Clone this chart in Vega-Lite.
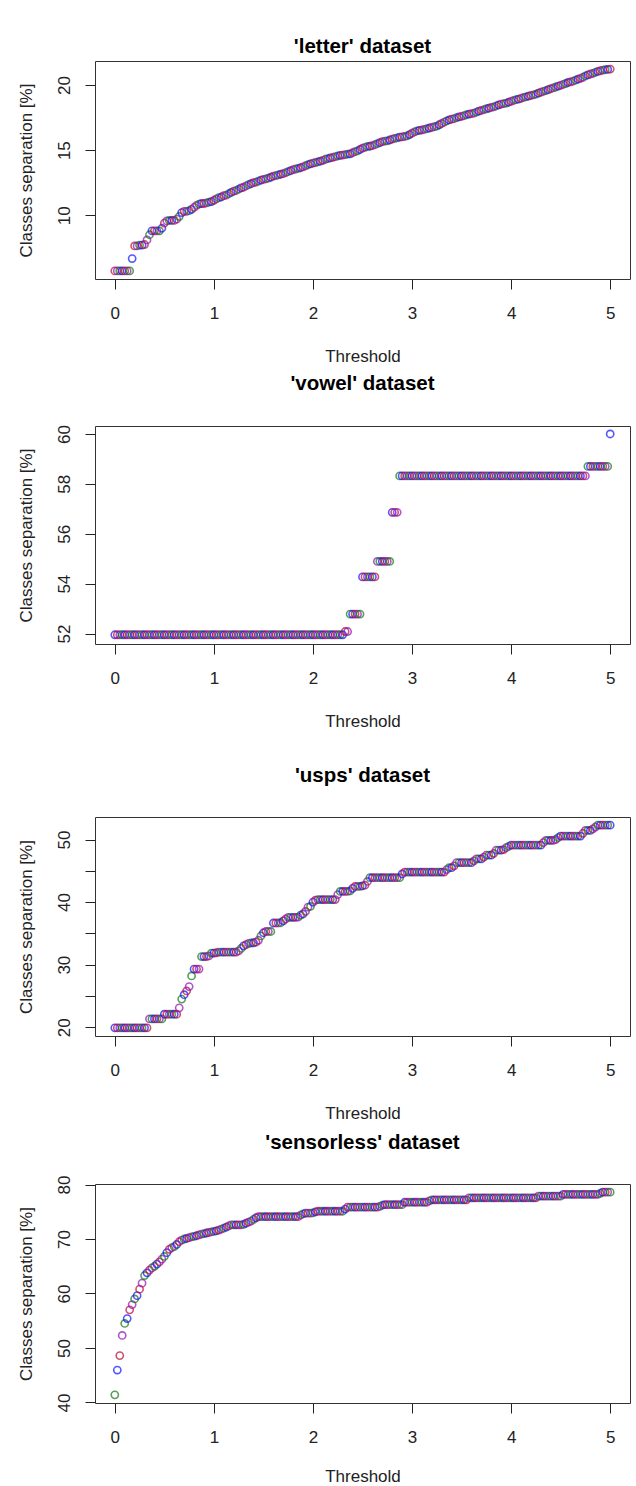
{
"$schema": "https://vega.github.io/schema/vega-lite/v6.json",
"background": "white",
"padding": {"left": 16, "top": 36, "right": 4, "bottom": 0},
"config": {
  "font": "Liberation Sans",
  "view": {"stroke": "#333", "strokeWidth": 1},
  "axis": {"grid": false, "domain": false, "tickColor": "#222", "tickSize": 10, "tickWidth": 1, "labelFont": "Liberation Sans", "labelFontSize": 17, "labelColor": "#222", "titleFont": "Liberation Sans", "titleFontSize": 17, "titleFontWeight": "normal", "titleColor": "#222", "labelFlush": false, "labelOverlap": false},
  "axisX": {"labelPadding": 16, "titlePadding": 27, "labelAngle": 0},
  "axisY": {"labelAngle": -90, "labelAlign": "center", "labelBaseline": "bottom", "labelPadding": 12, "titlePadding": 20},
  "title": {"fontSize": 20.5, "fontWeight": "bold", "font": "Liberation Sans", "color": "#000", "anchor": "middle", "frame": "group"},
  "point": {"filled": false, "shape": "circle", "size": 52, "strokeWidth": 1.6}
},
"datasets": {
"letter": [{"t":0,"v":5.72},{"t":0.025,"v":5.72},{"t":0.05,"v":5.72},{"t":0.075,"v":5.72},{"t":0.1,"v":5.72},{"t":0.125,"v":5.72},{"t":0.15,"v":5.72},{"t":0.175,"v":6.67},{"t":0.2,"v":7.64},{"t":0.225,"v":7.64},{"t":0.25,"v":7.7},{"t":0.275,"v":7.7},{"t":0.3,"v":7.75},{"t":0.325,"v":8.1},{"t":0.35,"v":8.5},{"t":0.375,"v":8.8},{"t":0.4,"v":8.8},{"t":0.425,"v":8.8},{"t":0.45,"v":8.8},{"t":0.475,"v":9.0},{"t":0.5,"v":9.4},{"t":0.525,"v":9.56},{"t":0.55,"v":9.6},{"t":0.575,"v":9.6},{"t":0.6,"v":9.6},{"t":0.625,"v":9.7},{"t":0.65,"v":9.9},{"t":0.675,"v":10.2},{"t":0.7,"v":10.3},{"t":0.725,"v":10.3},{"t":0.75,"v":10.35},{"t":0.775,"v":10.45},{"t":0.8,"v":10.6},{"t":0.825,"v":10.75},{"t":0.85,"v":10.85},{"t":0.875,"v":10.9},{"t":0.9,"v":10.9},{"t":0.925,"v":10.95},{"t":0.95,"v":11.0},{"t":0.975,"v":11.05},
{"t":1,"v":11.15},{"t":1.025,"v":11.25},{"t":1.05,"v":11.35},{"t":1.075,"v":11.4},{"t":1.1,"v":11.5},{"t":1.125,"v":11.55},{"t":1.15,"v":11.65},{"t":1.175,"v":11.75},{"t":1.2,"v":11.85},{"t":1.225,"v":11.9},{"t":1.25,"v":12.0},{"t":1.275,"v":12.1},{"t":1.3,"v":12.15},{"t":1.325,"v":12.25},{"t":1.35,"v":12.35},{"t":1.375,"v":12.42},{"t":1.4,"v":12.5},{"t":1.425,"v":12.55},{"t":1.45,"v":12.62},{"t":1.475,"v":12.7},{"t":1.5,"v":12.75},{"t":1.525,"v":12.8},{"t":1.55,"v":12.85},{"t":1.575,"v":12.92},{"t":1.6,"v":13.0},{"t":1.625,"v":13.05},{"t":1.65,"v":13.1},{"t":1.675,"v":13.15},{"t":1.7,"v":13.2},{"t":1.725,"v":13.28},{"t":1.75,"v":13.35},{"t":1.775,"v":13.42},{"t":1.8,"v":13.5},{"t":1.825,"v":13.55},{"t":1.85,"v":13.6},{"t":1.875,"v":13.65},{"t":1.9,"v":13.72},{"t":1.925,"v":13.8},{"t":1.95,"v":13.88},{"t":1.975,"v":13.95},
{"t":2,"v":14.0},{"t":2.025,"v":14.05},{"t":2.05,"v":14.1},{"t":2.075,"v":14.15},{"t":2.1,"v":14.22},{"t":2.125,"v":14.3},{"t":2.15,"v":14.35},{"t":2.175,"v":14.4},{"t":2.2,"v":14.45},{"t":2.225,"v":14.5},{"t":2.25,"v":14.55},{"t":2.275,"v":14.6},{"t":2.3,"v":14.62},{"t":2.325,"v":14.65},{"t":2.35,"v":14.7},{"t":2.375,"v":14.72},{"t":2.4,"v":14.8},{"t":2.425,"v":14.88},{"t":2.45,"v":14.95},{"t":2.475,"v":15.05},{"t":2.5,"v":15.15},{"t":2.525,"v":15.22},{"t":2.55,"v":15.28},{"t":2.575,"v":15.3},{"t":2.6,"v":15.35},{"t":2.625,"v":15.42},{"t":2.65,"v":15.5},{"t":2.675,"v":15.58},{"t":2.7,"v":15.65},{"t":2.725,"v":15.7},{"t":2.75,"v":15.72},{"t":2.775,"v":15.78},{"t":2.8,"v":15.85},{"t":2.825,"v":15.9},{"t":2.85,"v":15.95},{"t":2.875,"v":16.0},{"t":2.9,"v":16.02},{"t":2.925,"v":16.05},{"t":2.95,"v":16.1},{"t":2.975,"v":16.2},
{"t":3,"v":16.3},{"t":3.025,"v":16.4},{"t":3.05,"v":16.48},{"t":3.075,"v":16.52},{"t":3.1,"v":16.55},{"t":3.125,"v":16.6},{"t":3.15,"v":16.65},{"t":3.175,"v":16.7},{"t":3.2,"v":16.75},{"t":3.225,"v":16.8},{"t":3.25,"v":16.85},{"t":3.275,"v":16.95},{"t":3.3,"v":17.05},{"t":3.325,"v":17.15},{"t":3.35,"v":17.25},{"t":3.375,"v":17.32},{"t":3.4,"v":17.38},{"t":3.425,"v":17.42},{"t":3.45,"v":17.5},{"t":3.475,"v":17.55},{"t":3.5,"v":17.6},{"t":3.525,"v":17.65},{"t":3.55,"v":17.72},{"t":3.575,"v":17.77},{"t":3.6,"v":17.8},{"t":3.625,"v":17.85},{"t":3.65,"v":17.92},{"t":3.675,"v":18.0},{"t":3.7,"v":18.05},{"t":3.725,"v":18.12},{"t":3.75,"v":18.18},{"t":3.775,"v":18.22},{"t":3.8,"v":18.28},{"t":3.825,"v":18.33},{"t":3.85,"v":18.4},{"t":3.875,"v":18.48},{"t":3.9,"v":18.54},{"t":3.925,"v":18.58},{"t":3.95,"v":18.62},{"t":3.975,"v":18.68},
{"t":4,"v":18.75},{"t":4.025,"v":18.82},{"t":4.05,"v":18.88},{"t":4.075,"v":18.92},{"t":4.1,"v":18.98},{"t":4.125,"v":19.05},{"t":4.15,"v":19.1},{"t":4.175,"v":19.15},{"t":4.2,"v":19.2},{"t":4.225,"v":19.25},{"t":4.25,"v":19.3},{"t":4.275,"v":19.38},{"t":4.3,"v":19.45},{"t":4.325,"v":19.52},{"t":4.35,"v":19.58},{"t":4.375,"v":19.65},{"t":4.4,"v":19.72},{"t":4.425,"v":19.78},{"t":4.45,"v":19.85},{"t":4.475,"v":19.92},{"t":4.5,"v":19.98},{"t":4.525,"v":20.05},{"t":4.55,"v":20.12},{"t":4.575,"v":20.2},{"t":4.6,"v":20.25},{"t":4.625,"v":20.3},{"t":4.65,"v":20.38},{"t":4.675,"v":20.45},{"t":4.7,"v":20.52},{"t":4.725,"v":20.6},{"t":4.75,"v":20.7},{"t":4.775,"v":20.78},{"t":4.8,"v":20.85},{"t":4.825,"v":20.9},{"t":4.85,"v":20.98},{"t":4.875,"v":21.05},{"t":4.9,"v":21.1},{"t":4.925,"v":21.15},{"t":4.95,"v":21.18},{"t":4.975,"v":21.2},{"t":5,"v":21.23}],
"vowel": [{"t":0,"v":51.95},{"t":0.025,"v":51.95},{"t":0.05,"v":51.95},{"t":0.075,"v":51.95},{"t":0.1,"v":51.95},{"t":0.125,"v":51.95},{"t":0.15,"v":51.95},{"t":0.175,"v":51.95},{"t":0.2,"v":51.95},{"t":0.225,"v":51.95},{"t":0.25,"v":51.95},{"t":0.275,"v":51.95},{"t":0.3,"v":51.95},{"t":0.325,"v":51.95},{"t":0.35,"v":51.95},{"t":0.375,"v":51.95},{"t":0.4,"v":51.95},{"t":0.425,"v":51.95},{"t":0.45,"v":51.95},{"t":0.475,"v":51.95},{"t":0.5,"v":51.95},{"t":0.525,"v":51.95},{"t":0.55,"v":51.95},{"t":0.575,"v":51.95},{"t":0.6,"v":51.95},{"t":0.625,"v":51.95},{"t":0.65,"v":51.95},{"t":0.675,"v":51.95},{"t":0.7,"v":51.95},{"t":0.725,"v":51.95},{"t":0.75,"v":51.95},{"t":0.775,"v":51.95},{"t":0.8,"v":51.95},{"t":0.825,"v":51.95},{"t":0.85,"v":51.95},{"t":0.875,"v":51.95},{"t":0.9,"v":51.95},{"t":0.925,"v":51.95},{"t":0.95,"v":51.95},{"t":0.975,"v":51.95},
{"t":1,"v":51.95},{"t":1.025,"v":51.95},{"t":1.05,"v":51.95},{"t":1.075,"v":51.95},{"t":1.1,"v":51.95},{"t":1.125,"v":51.95},{"t":1.15,"v":51.95},{"t":1.175,"v":51.95},{"t":1.2,"v":51.95},{"t":1.225,"v":51.95},{"t":1.25,"v":51.95},{"t":1.275,"v":51.95},{"t":1.3,"v":51.95},{"t":1.325,"v":51.95},{"t":1.35,"v":51.95},{"t":1.375,"v":51.95},{"t":1.4,"v":51.95},{"t":1.425,"v":51.95},{"t":1.45,"v":51.95},{"t":1.475,"v":51.95},{"t":1.5,"v":51.95},{"t":1.525,"v":51.95},{"t":1.55,"v":51.95},{"t":1.575,"v":51.95},{"t":1.6,"v":51.95},{"t":1.625,"v":51.95},{"t":1.65,"v":51.95},{"t":1.675,"v":51.95},{"t":1.7,"v":51.95},{"t":1.725,"v":51.95},{"t":1.75,"v":51.95},{"t":1.775,"v":51.95},{"t":1.8,"v":51.95},{"t":1.825,"v":51.95},{"t":1.85,"v":51.95},{"t":1.875,"v":51.95},{"t":1.9,"v":51.95},{"t":1.925,"v":51.95},{"t":1.95,"v":51.95},{"t":1.975,"v":51.95},
{"t":2,"v":51.95},{"t":2.025,"v":51.95},{"t":2.05,"v":51.95},{"t":2.075,"v":51.95},{"t":2.1,"v":51.95},{"t":2.125,"v":51.95},{"t":2.15,"v":51.95},{"t":2.175,"v":51.95},{"t":2.2,"v":51.95},{"t":2.225,"v":51.95},{"t":2.25,"v":51.95},{"t":2.275,"v":51.95},{"t":2.3,"v":51.95},{"t":2.325,"v":52.08},{"t":2.35,"v":52.08},{"t":2.375,"v":52.78},{"t":2.4,"v":52.78},{"t":2.425,"v":52.78},{"t":2.45,"v":52.78},{"t":2.475,"v":52.78},{"t":2.5,"v":54.27},{"t":2.525,"v":54.27},{"t":2.55,"v":54.27},{"t":2.575,"v":54.27},{"t":2.6,"v":54.27},{"t":2.625,"v":54.27},{"t":2.65,"v":54.89},{"t":2.675,"v":54.89},{"t":2.7,"v":54.89},{"t":2.725,"v":54.89},{"t":2.75,"v":54.89},{"t":2.775,"v":54.89},{"t":2.8,"v":56.86},{"t":2.825,"v":56.86},{"t":2.85,"v":56.86},{"t":2.875,"v":58.32},{"t":2.9,"v":58.32},{"t":2.925,"v":58.32},{"t":2.95,"v":58.32},{"t":2.975,"v":58.32},
{"t":3,"v":58.32},{"t":3.025,"v":58.32},{"t":3.05,"v":58.32},{"t":3.075,"v":58.32},{"t":3.1,"v":58.32},{"t":3.125,"v":58.32},{"t":3.15,"v":58.32},{"t":3.175,"v":58.32},{"t":3.2,"v":58.32},{"t":3.225,"v":58.32},{"t":3.25,"v":58.32},{"t":3.275,"v":58.32},{"t":3.3,"v":58.32},{"t":3.325,"v":58.32},{"t":3.35,"v":58.32},{"t":3.375,"v":58.32},{"t":3.4,"v":58.32},{"t":3.425,"v":58.32},{"t":3.45,"v":58.32},{"t":3.475,"v":58.32},{"t":3.5,"v":58.32},{"t":3.525,"v":58.32},{"t":3.55,"v":58.32},{"t":3.575,"v":58.32},{"t":3.6,"v":58.32},{"t":3.625,"v":58.32},{"t":3.65,"v":58.32},{"t":3.675,"v":58.32},{"t":3.7,"v":58.32},{"t":3.725,"v":58.32},{"t":3.75,"v":58.32},{"t":3.775,"v":58.32},{"t":3.8,"v":58.32},{"t":3.825,"v":58.32},{"t":3.85,"v":58.32},{"t":3.875,"v":58.32},{"t":3.9,"v":58.32},{"t":3.925,"v":58.32},{"t":3.95,"v":58.32},{"t":3.975,"v":58.32},
{"t":4,"v":58.32},{"t":4.025,"v":58.32},{"t":4.05,"v":58.32},{"t":4.075,"v":58.32},{"t":4.1,"v":58.32},{"t":4.125,"v":58.32},{"t":4.15,"v":58.32},{"t":4.175,"v":58.32},{"t":4.2,"v":58.32},{"t":4.225,"v":58.32},{"t":4.25,"v":58.32},{"t":4.275,"v":58.32},{"t":4.3,"v":58.32},{"t":4.325,"v":58.32},{"t":4.35,"v":58.32},{"t":4.375,"v":58.32},{"t":4.4,"v":58.32},{"t":4.425,"v":58.32},{"t":4.45,"v":58.32},{"t":4.475,"v":58.32},{"t":4.5,"v":58.32},{"t":4.525,"v":58.32},{"t":4.55,"v":58.32},{"t":4.575,"v":58.32},{"t":4.6,"v":58.32},{"t":4.625,"v":58.32},{"t":4.65,"v":58.32},{"t":4.675,"v":58.32},{"t":4.7,"v":58.32},{"t":4.725,"v":58.32},{"t":4.75,"v":58.32},{"t":4.775,"v":58.7},{"t":4.8,"v":58.7},{"t":4.825,"v":58.7},{"t":4.85,"v":58.7},{"t":4.875,"v":58.7},{"t":4.9,"v":58.7},{"t":4.925,"v":58.7},{"t":4.95,"v":58.7},{"t":4.975,"v":58.7},{"t":5,"v":60}],
"usps": [{"t":0,"v":19.9},{"t":0.025,"v":19.9},{"t":0.05,"v":19.9},{"t":0.075,"v":19.9},{"t":0.1,"v":19.9},{"t":0.125,"v":19.9},{"t":0.15,"v":19.9},{"t":0.175,"v":19.9},{"t":0.2,"v":19.9},{"t":0.225,"v":19.9},{"t":0.25,"v":19.9},{"t":0.275,"v":19.9},{"t":0.3,"v":19.9},{"t":0.325,"v":19.9},{"t":0.35,"v":21.33},{"t":0.375,"v":21.33},{"t":0.4,"v":21.33},{"t":0.425,"v":21.33},{"t":0.45,"v":21.33},{"t":0.475,"v":21.33},{"t":0.5,"v":22.08},{"t":0.525,"v":22.08},{"t":0.55,"v":22.08},{"t":0.575,"v":22.08},{"t":0.6,"v":22.08},{"t":0.625,"v":22.08},{"t":0.65,"v":23.1},{"t":0.675,"v":24.5},{"t":0.7,"v":25.2},{"t":0.725,"v":25.8},{"t":0.75,"v":26.5},{"t":0.775,"v":28.2},{"t":0.8,"v":29.3},{"t":0.825,"v":29.3},{"t":0.85,"v":29.3},{"t":0.875,"v":31.3},{"t":0.9,"v":31.3},{"t":0.925,"v":31.3},{"t":0.95,"v":31.4},{"t":0.975,"v":31.85},
{"t":1,"v":31.85},{"t":1.025,"v":31.9},{"t":1.05,"v":32.0},{"t":1.075,"v":32.0},{"t":1.1,"v":32.0},{"t":1.125,"v":32.0},{"t":1.15,"v":32.0},{"t":1.175,"v":32.0},{"t":1.2,"v":32.0},{"t":1.225,"v":32.0},{"t":1.25,"v":32.2},{"t":1.275,"v":32.6},{"t":1.3,"v":33.0},{"t":1.325,"v":33.2},{"t":1.35,"v":33.4},{"t":1.375,"v":33.46},{"t":1.4,"v":33.5},{"t":1.425,"v":33.6},{"t":1.45,"v":33.9},{"t":1.475,"v":34.6},{"t":1.5,"v":35.1},{"t":1.525,"v":35.3},{"t":1.55,"v":35.3},{"t":1.575,"v":35.3},{"t":1.6,"v":36.66},{"t":1.625,"v":36.66},{"t":1.65,"v":36.66},{"t":1.675,"v":36.7},{"t":1.7,"v":37.0},{"t":1.725,"v":37.3},{"t":1.75,"v":37.56},{"t":1.775,"v":37.56},{"t":1.8,"v":37.56},{"t":1.825,"v":37.56},{"t":1.85,"v":37.6},{"t":1.875,"v":37.9},{"t":1.9,"v":38.1},{"t":1.925,"v":38.5},{"t":1.95,"v":39.2},{"t":1.975,"v":39.3},
{"t":2,"v":40.0},{"t":2.025,"v":40.3},{"t":2.05,"v":40.4},{"t":2.075,"v":40.4},{"t":2.1,"v":40.4},{"t":2.125,"v":40.4},{"t":2.15,"v":40.4},{"t":2.175,"v":40.4},{"t":2.2,"v":40.4},{"t":2.225,"v":40.4},{"t":2.25,"v":41.2},{"t":2.275,"v":41.7},{"t":2.3,"v":41.7},{"t":2.325,"v":41.7},{"t":2.35,"v":41.7},{"t":2.375,"v":41.8},{"t":2.4,"v":42.2},{"t":2.425,"v":42.5},{"t":2.45,"v":42.5},{"t":2.475,"v":42.5},{"t":2.5,"v":42.6},{"t":2.525,"v":42.7},{"t":2.55,"v":43.3},{"t":2.575,"v":43.9},{"t":2.6,"v":43.9},{"t":2.625,"v":43.9},{"t":2.65,"v":43.9},{"t":2.675,"v":43.9},{"t":2.7,"v":43.9},{"t":2.725,"v":43.9},{"t":2.75,"v":43.9},{"t":2.775,"v":43.9},{"t":2.8,"v":43.9},{"t":2.825,"v":43.9},{"t":2.85,"v":43.9},{"t":2.875,"v":43.9},{"t":2.9,"v":44.5},{"t":2.925,"v":44.8},{"t":2.95,"v":44.8},{"t":2.975,"v":44.8},
{"t":3,"v":44.8},{"t":3.025,"v":44.8},{"t":3.05,"v":44.8},{"t":3.075,"v":44.8},{"t":3.1,"v":44.8},{"t":3.125,"v":44.8},{"t":3.15,"v":44.8},{"t":3.175,"v":44.8},{"t":3.2,"v":44.8},{"t":3.225,"v":44.8},{"t":3.25,"v":44.8},{"t":3.275,"v":44.8},{"t":3.3,"v":44.8},{"t":3.325,"v":44.8},{"t":3.35,"v":45.2},{"t":3.375,"v":45.5},{"t":3.4,"v":45.5},{"t":3.425,"v":45.8},{"t":3.45,"v":46.3},{"t":3.475,"v":46.3},{"t":3.5,"v":46.3},{"t":3.525,"v":46.3},{"t":3.55,"v":46.3},{"t":3.575,"v":46.3},{"t":3.6,"v":46.3},{"t":3.625,"v":46.6},{"t":3.65,"v":46.9},{"t":3.675,"v":46.9},{"t":3.7,"v":46.9},{"t":3.725,"v":47.2},{"t":3.75,"v":47.5},{"t":3.775,"v":47.5},{"t":3.8,"v":47.5},{"t":3.825,"v":47.8},{"t":3.85,"v":48.3},{"t":3.875,"v":48.3},{"t":3.9,"v":48.3},{"t":3.925,"v":48.4},{"t":3.95,"v":48.7},{"t":3.975,"v":48.9},
{"t":4,"v":49.1},{"t":4.025,"v":49.1},{"t":4.05,"v":49.1},{"t":4.075,"v":49.1},{"t":4.1,"v":49.1},{"t":4.125,"v":49.1},{"t":4.15,"v":49.1},{"t":4.175,"v":49.1},{"t":4.2,"v":49.1},{"t":4.225,"v":49.1},{"t":4.25,"v":49.1},{"t":4.275,"v":49.1},{"t":4.3,"v":49.1},{"t":4.325,"v":49.5},{"t":4.35,"v":49.85},{"t":4.375,"v":49.85},{"t":4.4,"v":49.85},{"t":4.425,"v":49.85},{"t":4.45,"v":50.0},{"t":4.475,"v":50.3},{"t":4.5,"v":50.55},{"t":4.525,"v":50.55},{"t":4.55,"v":50.55},{"t":4.575,"v":50.55},{"t":4.6,"v":50.55},{"t":4.625,"v":50.55},{"t":4.65,"v":50.55},{"t":4.675,"v":50.55},{"t":4.7,"v":50.55},{"t":4.725,"v":51.0},{"t":4.75,"v":51.45},{"t":4.775,"v":51.45},{"t":4.8,"v":51.45},{"t":4.825,"v":51.7},{"t":4.85,"v":52.0},{"t":4.875,"v":52.3},{"t":4.9,"v":52.3},{"t":4.925,"v":52.3},{"t":4.95,"v":52.3},{"t":4.975,"v":52.3},{"t":5,"v":52.3}],
"sensorless": [{"t":0,"v":41.4},{"t":0.025,"v":45.95},{"t":0.05,"v":48.6},{"t":0.075,"v":52.3},{"t":0.1,"v":54.5},{"t":0.125,"v":55.4},{"t":0.15,"v":57.0},{"t":0.175,"v":57.96},{"t":0.2,"v":59.0},{"t":0.225,"v":59.6},{"t":0.25,"v":60.8},{"t":0.275,"v":61.9},{"t":0.3,"v":63.3},{"t":0.325,"v":63.8},{"t":0.35,"v":64.3},{"t":0.375,"v":64.7},{"t":0.4,"v":65.0},{"t":0.425,"v":65.4},{"t":0.45,"v":65.8},{"t":0.475,"v":66.3},{"t":0.5,"v":66.8},{"t":0.525,"v":67.5},{"t":0.55,"v":68.1},{"t":0.575,"v":68.4},{"t":0.6,"v":68.6},{"t":0.625,"v":69.0},{"t":0.65,"v":69.5},{"t":0.675,"v":69.8},{"t":0.7,"v":70.0},{"t":0.725,"v":70.1},{"t":0.75,"v":70.25},{"t":0.775,"v":70.4},{"t":0.8,"v":70.5},{"t":0.825,"v":70.6},{"t":0.85,"v":70.75},{"t":0.875,"v":70.9},{"t":0.9,"v":71.0},{"t":0.925,"v":71.1},{"t":0.95,"v":71.2},{"t":0.975,"v":71.3},
{"t":1,"v":71.4},{"t":1.025,"v":71.5},{"t":1.05,"v":71.65},{"t":1.075,"v":71.8},{"t":1.1,"v":72.0},{"t":1.125,"v":72.2},{"t":1.15,"v":72.4},{"t":1.175,"v":72.6},{"t":1.2,"v":72.6},{"t":1.225,"v":72.6},{"t":1.25,"v":72.6},{"t":1.275,"v":72.6},{"t":1.3,"v":72.7},{"t":1.325,"v":72.9},{"t":1.35,"v":73.1},{"t":1.375,"v":73.3},{"t":1.4,"v":73.6},{"t":1.425,"v":73.9},{"t":1.45,"v":74.1},{"t":1.475,"v":74.1},{"t":1.5,"v":74.1},{"t":1.525,"v":74.1},{"t":1.55,"v":74.1},{"t":1.575,"v":74.1},{"t":1.6,"v":74.1},{"t":1.625,"v":74.1},{"t":1.65,"v":74.1},{"t":1.675,"v":74.1},{"t":1.7,"v":74.1},{"t":1.725,"v":74.1},{"t":1.75,"v":74.1},{"t":1.775,"v":74.1},{"t":1.8,"v":74.1},{"t":1.825,"v":74.1},{"t":1.85,"v":74.1},{"t":1.875,"v":74.4},{"t":1.9,"v":74.6},{"t":1.925,"v":74.75},{"t":1.95,"v":74.75},{"t":1.975,"v":74.75},
{"t":2,"v":74.8},{"t":2.025,"v":75.0},{"t":2.05,"v":75.1},{"t":2.075,"v":75.1},{"t":2.1,"v":75.1},{"t":2.125,"v":75.1},{"t":2.15,"v":75.1},{"t":2.175,"v":75.1},{"t":2.2,"v":75.1},{"t":2.225,"v":75.1},{"t":2.25,"v":75.1},{"t":2.275,"v":75.1},{"t":2.3,"v":75.1},{"t":2.325,"v":75.5},{"t":2.35,"v":75.85},{"t":2.375,"v":75.85},{"t":2.4,"v":75.85},{"t":2.425,"v":75.85},{"t":2.45,"v":75.85},{"t":2.475,"v":75.85},{"t":2.5,"v":75.85},{"t":2.525,"v":75.85},{"t":2.55,"v":75.85},{"t":2.575,"v":75.85},{"t":2.6,"v":75.85},{"t":2.625,"v":75.85},{"t":2.65,"v":75.85},{"t":2.675,"v":76.0},{"t":2.7,"v":76.2},{"t":2.725,"v":76.3},{"t":2.75,"v":76.3},{"t":2.775,"v":76.3},{"t":2.8,"v":76.3},{"t":2.825,"v":76.3},{"t":2.85,"v":76.3},{"t":2.875,"v":76.3},{"t":2.9,"v":76.3},{"t":2.925,"v":76.75},{"t":2.95,"v":76.75},{"t":2.975,"v":76.75},
{"t":3,"v":76.75},{"t":3.025,"v":76.75},{"t":3.05,"v":76.75},{"t":3.075,"v":76.75},{"t":3.1,"v":76.75},{"t":3.125,"v":76.75},{"t":3.15,"v":76.75},{"t":3.175,"v":77.0},{"t":3.2,"v":77.2},{"t":3.225,"v":77.2},{"t":3.25,"v":77.2},{"t":3.275,"v":77.2},{"t":3.3,"v":77.2},{"t":3.325,"v":77.2},{"t":3.35,"v":77.2},{"t":3.375,"v":77.2},{"t":3.4,"v":77.2},{"t":3.425,"v":77.2},{"t":3.45,"v":77.2},{"t":3.475,"v":77.2},{"t":3.5,"v":77.2},{"t":3.525,"v":77.2},{"t":3.55,"v":77.2},{"t":3.575,"v":77.57},{"t":3.6,"v":77.57},{"t":3.625,"v":77.57},{"t":3.65,"v":77.57},{"t":3.675,"v":77.57},{"t":3.7,"v":77.57},{"t":3.725,"v":77.57},{"t":3.75,"v":77.57},{"t":3.775,"v":77.57},{"t":3.8,"v":77.57},{"t":3.825,"v":77.57},{"t":3.85,"v":77.57},{"t":3.875,"v":77.57},{"t":3.9,"v":77.57},{"t":3.925,"v":77.57},{"t":3.95,"v":77.57},{"t":3.975,"v":77.57},
{"t":4,"v":77.57},{"t":4.025,"v":77.57},{"t":4.05,"v":77.57},{"t":4.075,"v":77.57},{"t":4.1,"v":77.57},{"t":4.125,"v":77.57},{"t":4.15,"v":77.57},{"t":4.175,"v":77.57},{"t":4.2,"v":77.57},{"t":4.225,"v":77.57},{"t":4.25,"v":77.57},{"t":4.275,"v":77.87},{"t":4.3,"v":77.87},{"t":4.325,"v":77.87},{"t":4.35,"v":77.87},{"t":4.375,"v":77.87},{"t":4.4,"v":77.87},{"t":4.425,"v":77.87},{"t":4.45,"v":77.87},{"t":4.475,"v":77.87},{"t":4.5,"v":77.87},{"t":4.525,"v":78.2},{"t":4.55,"v":78.2},{"t":4.575,"v":78.2},{"t":4.6,"v":78.2},{"t":4.625,"v":78.2},{"t":4.65,"v":78.2},{"t":4.675,"v":78.2},{"t":4.7,"v":78.2},{"t":4.725,"v":78.2},{"t":4.75,"v":78.2},{"t":4.775,"v":78.2},{"t":4.8,"v":78.2},{"t":4.825,"v":78.2},{"t":4.85,"v":78.2},{"t":4.875,"v":78.2},{"t":4.9,"v":78.4},{"t":4.925,"v":78.6},{"t":4.95,"v":78.6},{"t":4.975,"v":78.6},{"t":5,"v":78.6}]
},
"spacing": 35,
"vconcat": [
 {"spacing": 8, "vconcat": [
  {"title": {"text": "'letter' dataset", "offset": 4},
   "width": 535, "height": 218,
   "data": {"name": "letter"},
   "transform": [{"window": [{"op": "row_number", "as": "n"}]}],
   "mark": {"type": "point"},
   "encoding": {
     "x": {"field": "t", "type": "quantitative", "scale": {"domain": [-0.2, 5.2], "nice": false, "zero": false}, "axis": {"values": [0,1,2,3,4,5], "title": "Threshold"}},
     "y": {"field": "v", "type": "quantitative", "scale": {"domain": [5.1, 21.85], "nice": false, "zero": false}, "axis": {"values": [10,15,20], "title": "Classes separation [%]"}},
     "color": {"condition": [{"test": "(datum.n-1)%4==3", "value": "#1010ff"}, {"test": "(datum.n-1)%4==0", "value": "#bb0a30"}, {"test": "(datum.n-1)%4==1", "value": "#9010b8"}], "value": "#107a10"}
   }},
  {"title": {"text": "'vowel' dataset", "offset": 30},
   "width": 535, "height": 218,
   "data": {"name": "vowel"},
   "transform": [{"window": [{"op": "row_number", "as": "n"}]}],
   "mark": {"type": "point"},
   "encoding": {
     "x": {"field": "t", "type": "quantitative", "scale": {"domain": [-0.2, 5.2], "nice": false, "zero": false}, "axis": {"values": [0,1,2,3,4,5], "title": "Threshold"}},
     "y": {"field": "v", "type": "quantitative", "scale": {"domain": [51.58, 60.32], "nice": false, "zero": false}, "axis": {"values": [52,54,56,58,60], "title": "Classes separation [%]"}},
     "color": {"condition": [{"test": "(datum.n-1)%4==0", "value": "#1010ff"}, {"test": "(datum.n-1)%4==1", "value": "#bb0a30"}, {"test": "(datum.n-1)%4==2", "value": "#9010b8"}], "value": "#107a10"}
   }}
 ]},
 {"spacing": 10, "vconcat": [
  {"title": {"text": "'usps' dataset", "offset": 31},
   "width": 535, "height": 219,
   "data": {"name": "usps"},
   "transform": [{"window": [{"op": "row_number", "as": "n"}]}],
   "mark": {"type": "point"},
   "encoding": {
     "x": {"field": "t", "type": "quantitative", "scale": {"domain": [-0.2, 5.2], "nice": false, "zero": false}, "axis": {"values": [0,1,2,3,4,5], "title": "Threshold"}},
     "y": {"field": "v", "type": "quantitative", "scale": {"domain": [18.6, 53.6], "nice": false, "zero": false}, "axis": {"values": [20,25,30,35,40,45,50], "labelExpr": "datum.value % 10 == 0 ? datum.label : ''", "title": "Classes separation [%]"}},
     "color": {"condition": [{"test": "(datum.n-1)%4==0", "value": "#1010ff"}, {"test": "(datum.n-1)%4==1", "value": "#bb0a30"}, {"test": "(datum.n-1)%4==2", "value": "#9010b8"}], "value": "#107a10"}
   }},
  {"title": {"text": "'sensorless' dataset", "offset": 22},
   "width": 535, "height": 219,
   "data": {"name": "sensorless"},
   "transform": [{"window": [{"op": "row_number", "as": "n"}]}],
   "mark": {"type": "point"},
   "encoding": {
     "x": {"field": "t", "type": "quantitative", "scale": {"domain": [-0.2, 5.2], "nice": false, "zero": false}, "axis": {"values": [0,1,2,3,4,5], "title": "Threshold", "titlePadding": 23}},
     "y": {"field": "v", "type": "quantitative", "scale": {"domain": [39.9, 80.1], "nice": false, "zero": false}, "axis": {"values": [40,50,60,70,80], "title": "Classes separation [%]"}},
     "color": {"condition": [{"test": "(datum.n-1)%4==0", "value": "#107a10"}, {"test": "(datum.n-1)%4==1", "value": "#1010ff"}, {"test": "(datum.n-1)%4==2", "value": "#bb0a30"}], "value": "#9010b8"}
   }}
 ]}
]
}
